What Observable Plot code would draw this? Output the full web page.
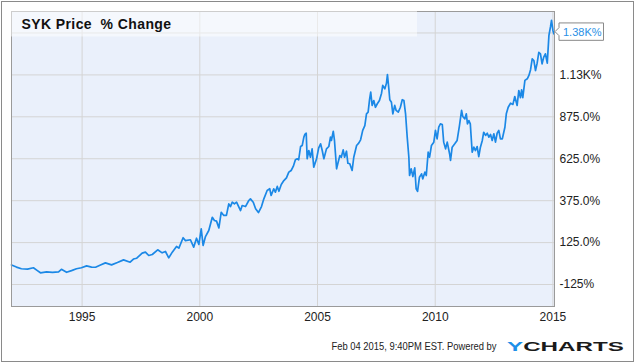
<!DOCTYPE html>
<html>
<head>
<meta charset="utf-8">
<script src="https://cdn.jsdelivr.net/npm/d3@7"></script>
<script src="https://cdn.jsdelivr.net/npm/@observablehq/plot@0.6"></script>
<style>
  html, body { margin: 0; padding: 0; background: #fff; }
  #wrap { position: relative; width: 635px; height: 362px; overflow: hidden; }
  #outer { position: absolute; left: 1px; top: 1px; width: 633px; height: 361px; box-sizing: border-box; border: 1px solid #8a8a8a; pointer-events: none; }
  svg { position: absolute; left: 0; top: 0; }
</style>
</head>
<body>
<div id="wrap"><div id="outer"></div></div>
<script>
const titleText = "SYK Price  % Change";
const footerText = "Feb 04 2015, 9:40PM EST. Powered by";

const years = [
  1992.00,1992.21,1992.42,1992.68,1992.93,1993.10,1993.23,1993.49,1993.74,1994.00,
  1994.12,1994.34,1994.55,1994.76,1994.97,1995.19,1995.40,1995.57,1995.78,1995.99,
  1996.25,1996.50,1996.76,1997.04,1997.18,1997.32,1997.55,1997.69,1997.83,1997.98,
  1998.21,1998.40,1998.54,1998.68,1998.83,1999.01,1999.11,1999.29,1999.39,1999.60,
  1999.74,1999.86,1999.96,2000.06,2000.14,2000.24,2000.38,2000.53,2000.62,2000.71,
  2000.81,2000.91,2001.02,2001.13,2001.23,2001.30,2001.38,2001.47,2001.56,2001.66,
  2001.73,2001.80,2001.94,2002.08,2002.15,2002.27,2002.37,2002.49,2002.62,2002.72,
  2002.86,2002.97,2003.03,2003.14,2003.21,2003.29,2003.36,2003.46,2003.57,2003.68,
  2003.78,2003.88,2003.97,2004.06,2004.14,2004.20,2004.28,2004.35,2004.42,2004.46,
  2004.52,2004.56,2004.63,2004.70,2004.77,2004.84,2004.96,2005.05,2005.13,2005.20,
  2005.27,2005.38,2005.48,2005.55,2005.59,2005.67,2005.72,2005.81,2005.86,2005.95,
  2006.01,2006.09,2006.15,2006.23,2006.29,2006.37,2006.47,2006.54,2006.66,2006.75,
  2006.83,2006.92,2007.01,2007.08,2007.15,2007.21,2007.26,2007.32,2007.39,2007.46,
  2007.54,2007.63,2007.72,2007.77,2007.86,2007.93,2007.97,2008.03,2008.07,2008.14,
  2008.20,2008.28,2008.34,2008.43,2008.52,2008.60,2008.67,2008.74,2008.81,2008.88,
  2008.91,2008.98,2009.05,2009.13,2009.19,2009.25,2009.33,2009.42,2009.47,2009.56,
  2009.62,2009.70,2009.76,2009.84,2009.94,2010.01,2010.08,2010.15,2010.22,2010.30,
  2010.36,2010.44,2010.51,2010.61,2010.65,2010.72,2010.83,2010.93,2011.03,2011.12,
  2011.17,2011.26,2011.32,2011.37,2011.43,2011.49,2011.57,2011.64,2011.71,2011.78,
  2011.85,2011.92,2012.00,2012.06,2012.14,2012.21,2012.28,2012.35,2012.42,2012.49,
  2012.56,2012.63,2012.70,2012.77,2012.85,2012.96,2013.02,2013.10,2013.20,2013.30,
  2013.38,2013.48,2013.55,2013.62,2013.67,2013.72,2013.81,2013.91,2013.98,2014.05,
  2014.12,2014.19,2014.26,2014.33,2014.40,2014.47,2014.54,2014.61,2014.68,2014.76,
  2014.83,2014.90,2014.94,2015.00,2015.04,2015.067
];
const pct = [
  -8,-21,-31,-33,-25,-42,-55,-50,-52,-49,
  -34,-52,-42,-31,-25,-14,-21,-22,-9,4,
  -8,6,22,8,27,32,62,68,48,54,
  82,64,72,34,68,102,92,154,137,142,
  98,151,114,207,108,161,197,276,257,253,
  213,306,287,287,356,340,366,356,366,336,
  316,346,340,376,386,366,327,304,340,386,
  436,446,406,446,426,460,431,471,495,511,
  545,555,579,619,625,619,698,704,754,770,
  777,625,674,634,684,575,625,690,714,674,
  625,684,698,754,734,789,734,565,595,644,
  634,678,634,670,598,595,555,634,704,718,
  738,794,823,893,903,977,1022,943,972,932,
  953,972,1016,1062,1042,1076,1127,1042,977,962,
  893,943,913,903,932,977,972,893,754,634,
  525,565,519,571,446,430,515,535,505,545,
  525,664,634,704,724,794,744,813,833,829,
  724,684,724,655,615,694,714,734,823,913,
  877,863,893,833,853,833,664,694,674,698,
  638,694,734,783,764,777,754,770,734,774,
  724,777,794,744,744,813,893,932,956,949,
  996,943,1032,989,1036,989,1092,1102,1122,1156,
  1221,1211,1151,1195,1260,1251,1191,1231,1251,1195,
  1360,1414,1450,1390,1370,1380
];
const xTicks = [1995, 2000, 2005, 2010, 2015];
const yGrid = [-125, 125, 375, 625, 875, 1125, 1375];
const yTicks = [-125, 125, 375, 625, 875, 1125];
const yTickLabels = ["-125%", "125.0%", "375.0%", "625.0%", "875.0%", "1.13K%"];
const lastLabel = "1.38K%";

const data = years.map((y, i) => ({year: y, pct: pct[i]}));
const yLabelMap = new Map(yTicks.map((t, i) => [t, yTickLabels[i]]));

const lineColor = "#1b88e6";
const font = "'Liberation Sans', Arial, sans-serif";

const svgNode = Plot.plot({
  width: 635,
  height: 362,
  marginLeft: 11,
  marginRight: 81,
  marginTop: 11,
  marginBottom: 56,
  style: {background: "transparent", fontFamily: font, fontSize: "12px", color: "#222"},
  x: {domain: [1992, 2015.067]},
  y: {domain: [-256, 1503]},
  marks: [
    Plot.frame({fill: "#eaf0fb", stroke: null}),
    Plot.gridX(xTicks, {stroke: "#d4d4d4", strokeOpacity: 1}),
    Plot.gridY(yGrid, {stroke: "#d4d4d4", strokeOpacity: 1}),
    Plot.line(data, {x: "year", y: "pct", stroke: lineColor, strokeWidth: 1.7, strokeLinejoin: "round"}),
    Plot.frame({stroke: "#9a9a9a"}),
    Plot.axisX(xTicks, {tickSize: 0, tickPadding: 6, tickFormat: "d", label: null, fontSize: 12}),
    Plot.axisY(yTicks, {anchor: "right", tickSize: 0, tickPadding: 5, tickFormat: d => yLabelMap.get(d), label: null, fontSize: 12})
  ]
});

const svg = d3.select(svgNode);
const xs = svgNode.scale("x"), ys = svgNode.scale("y");

// title box
svg.append("rect").attr("x", 11).attr("y", 11).attr("width", 406).attr("height", 25.5)
  .attr("fill", "#ffffff").attr("fill-opacity", 0.5);
svg.append("text").attr("x", 21.5).attr("y", 28.5).attr("text-anchor", "start")
  .attr("font-family", font).attr("font-size", 14).attr("font-weight", "bold")
  .attr("letter-spacing", "0.4px").attr("fill", "#111").style("white-space", "pre")
  .text(titleText);

// last value flag
const yc = ys.apply(pct[pct.length - 1]);
const x0 = xs.apply(years[years.length - 1]) + 1;
svg.append("path")
  .attr("d", `M${x0},${yc} L${x0 + 4},${yc - 4} V${yc - 8.7} H${x0 + 48.5} V${yc + 8.7} H${x0 + 4} V${yc + 4} Z`)
  .attr("fill", "#fff").attr("stroke", "#8a8a8a").attr("stroke-width", 1);
svg.append("text").attr("x", x0 + 8).attr("y", yc).attr("dy", "0.36em").attr("text-anchor", "start")
  .attr("font-family", font).attr("font-size", 11).attr("fill", "#2a90e6")
  .text(lastLabel);

// footer
svg.append("text").attr("x", 496.5).attr("y", 350).attr("text-anchor", "end")
  .attr("font-family", font).attr("font-size", 10.5).attr("fill", "#222")
  .attr("textLength", 165).attr("lengthAdjust", "spacingAndGlyphs")
  .text(footerText);
const logo = svg.append("text").attr("x", 507).attr("y", 351).attr("text-anchor", "start")
  .attr("font-family", font).attr("font-size", 13).attr("font-weight", "bold")
  .attr("textLength", 117).attr("lengthAdjust", "spacingAndGlyphs");
logo.append("tspan").attr("fill", "#1e8fe8").text("Y");
logo.append("tspan").attr("fill", "#1a1a1a").text("CHARTS");

document.getElementById("wrap").insertBefore(svgNode, document.getElementById("outer"));
</script>
</body>
</html>
